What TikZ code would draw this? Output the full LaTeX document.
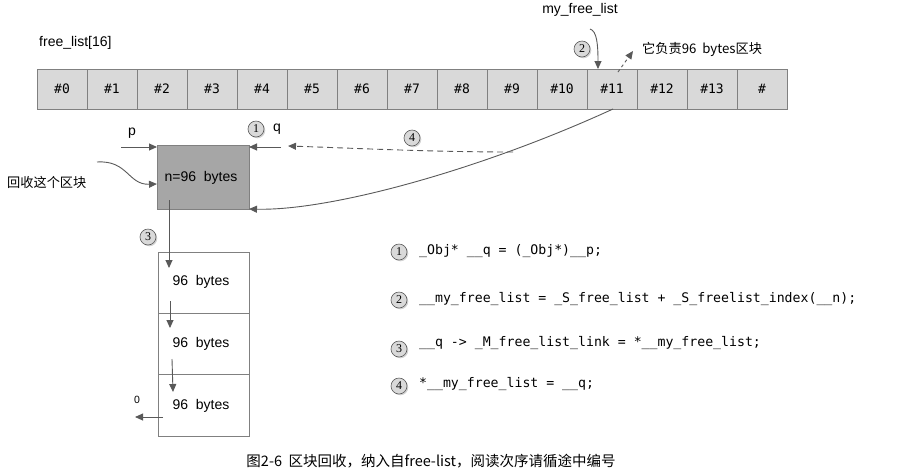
\documentclass[tikz,border=0pt]{standalone}
\usepackage{fontspec}
\setmainfont{Liberation Sans}
\newfontfamily\cjk{Noto Sans CJK SC}
\newfontfamily\mono{DejaVu Sans Mono}
\newfontfamily\serifnum{Liberation Serif}
\usetikzlibrary{arrows.meta,shadows}
\definecolor{cellgray}{HTML}{D9D9D9}
\definecolor{edgegray}{HTML}{808080}
\definecolor{boxgray}{HTML}{A6A6A6}
\definecolor{linegray}{HTML}{595959}
\begin{document}
\begin{tikzpicture}[x=1pt,y=-1pt,
  txt/.style={font=\fontsize{14}{16}\selectfont, inner sep=1pt},
  cjktxt/.style={font=\cjk\fontsize{13.2}{15}\selectfont, inner sep=1pt},
  codetxt/.style={font=\mono\fontsize{13.2}{15}\selectfont, anchor=west, inner sep=0pt},
  cell/.style={draw=edgegray, fill=cellgray, line width=0.8pt, minimum width=50pt, minimum height=40pt, inner sep=0pt, font=\mono\fontsize{13}{15}\selectfont},
  blk/.style={draw=edgegray, line width=0.8pt, anchor=north west, inner sep=0pt},
  numc/.style={circle, draw=linegray, fill=cellgray, minimum size=16pt, inner sep=0pt, line width=0.6pt,
    font=\serifnum\fontsize{12}{12}\selectfont,
    drop shadow={shadow xshift=1.3pt, shadow yshift=-1.3pt, opacity=0.35}},
  arr/.style={draw=linegray, line width=0.9pt, -{Triangle[length=8pt,width=7pt]}},
]
\path[use as bounding box] (0,0) rectangle (908,475);

% array
\foreach \i/\t in {0/\#0,1/\#1,2/\#2,3/\#3,4/\#4,5/\#5,6/\#6,7/\#7,8/\#8,9/\#9,10/\#10,11/\#11,12/\#12,13/\#13,14/\#}
  \node[cell] (c\i) at ({62+50*\i},89) {\t};

\node[txt, anchor=west] (fl) at (38,43) {free\_list[16]};
\node[txt] (mfl) at (580,10) {my\_free\_list};
\node[cjktxt, anchor=west] (resp) at (641,49) {它负责96\ \ bytes区块};

% block being recycled
\node[blk, fill=boxgray, minimum width=92pt, minimum height=64pt] (big) at (157,145) {};
\node[txt] (bigt) at (201,178) {n=96\ \ bytes};

% stack of blocks
\node[blk, fill=white, minimum width=91pt, minimum height=61pt] (s1) at (158,252) {};
\node[blk, fill=white, minimum width=91pt, minimum height=61pt] (s2) at (158,313) {};
\node[blk, fill=white, minimum width=91pt, minimum height=62pt] (s3) at (158,374) {};
\node[txt] (s1t) at (201,282) {96\ \ bytes};
\node[txt] (s2t) at (201,344) {96\ \ bytes};
\node[txt] (s3t) at (201,406) {96\ \ bytes};

% labels
\node[txt] (p) at (132,133) {p};
\node[txt] (q) at (277,129) {q};
\node[font=\fontsize{10.5}{12}\selectfont] (zero) at (137,400) {0};
\node[cjktxt, anchor=west] (rec) at (6,182) {回收这个区块};

% circled numbers
\node[numc] (n1) at (256,129) {1};
\node[numc] (n2) at (582,49) {2};
\node[numc] (n3) at (148,237) {3};
\node[numc] (n4) at (412,138) {4};

% code
\node[numc] (k1) at (399,252) {1};
\node[numc] (k2) at (399,300) {2};
\node[numc] (k3) at (399,349) {3};
\node[numc] (k4) at (399,386) {4};
\node[codetxt] (l1) at (419,251) {\_Obj* \_\_q = (\_Obj*)\_\_p;};
\node[codetxt] (l2) at (419,299) {\_\_my\_free\_list = \_S\_free\_list + \_S\_freelist\_index(\_\_n);};
\node[codetxt] (l3) at (419,343) {\_\_q -> \_M\_free\_list\_link = *\_\_my\_free\_list;};
\node[codetxt] (l4) at (419,384) {*\_\_my\_free\_list = \_\_q;};

\node[cjktxt, font=\cjk\fontsize{14.5}{16}\selectfont] (cap) at (431,461) {图2-6\ \ 区块回收，纳入自free-list，阅读次序请循途中编号};

% coordinates for free ends
\coordinate (mfs) at (590,29);
\coordinate (mfe) at (598,69);
\coordinate (rs) at (618,72);
\coordinate (re) at (633,51);
\coordinate (ls) at (613,109);
\coordinate (le) at (249,209);
\coordinate (ds) at (513,152);
\coordinate (de) at (288,146);
\coordinate (qs) at (281,147);
\coordinate (qe) at (249,147);
\coordinate (ps) at (121,147);
\coordinate (pe) at (157,147);
\coordinate (rcs) at (97,162);
\coordinate (rce) at (157,184);
\coordinate (a1s) at (169,200);
\coordinate (a1e) at (169,268);
\coordinate (a2s) at (170,301);
\coordinate (a2e) at (170,328);
\coordinate (a3s) at (172,359);
\coordinate (a3e) at (173,392);
\coordinate (a4s) at (163,417);
\coordinate (a4e) at (135,417);

% connectors
\draw[arr] (mfs) .. controls (597,31) and (598,45) .. (mfe);
\draw[arr, dashed] (rs) -- (re);
\draw[arr] (ls) .. controls (480,170) and (330,211) .. (le);
\draw[arr, dashed, dash pattern=on 6pt off 4pt] (ds) .. controls (430,152) and (350,148) .. (de);
\draw[arr] (qs) -- (qe);
\draw[arr] (ps) -- (pe);
\draw[arr] (rcs) .. controls (128,160) and (128,185) .. (rce);
\draw[arr] (a1s) -- (a1e);
\draw[arr] (a2s) -- (a2e);
\draw[arr] (a3s) -- (a3e);
\draw[arr] (a4s) -- (a4e);
\end{tikzpicture}
\end{document}
